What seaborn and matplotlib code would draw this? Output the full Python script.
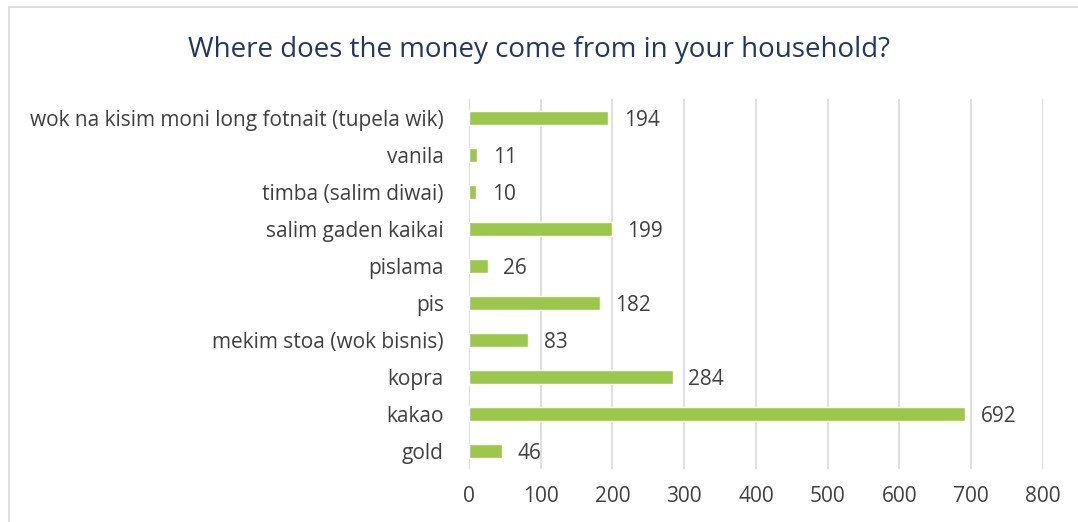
import matplotlib
matplotlib.use("Agg")
import matplotlib.pyplot as plt
import seaborn as sns
import pandas as pd
from matplotlib.patches import Rectangle

# data, top to bottom as shown
sources = ['wok na kisim moni long fotnait (tupela wik)', 'vanila', 'timba (salim diwai)',
           'salim gaden kaikai', 'pislama', 'pis', 'mekim stoa (wok bisnis)',
           'kopra', 'kakao', 'gold']
counts = [194, 11, 10, 199, 26, 182, 83, 284, 692, 46]

df = pd.DataFrame({'source': sources, 'count': counts})

sns.set_theme(style='white')
plt.rcParams['font.family'] = ['Open Sans', 'DejaVu Sans']

fig = plt.figure(figsize=(10.78, 5.22), dpi=100)
ax = fig.add_axes([0.435, 0.1006, 0.5325, 0.7088])

sns.barplot(data=df, x='count', y='source', color='#9BC84B', saturation=1,
            width=0.36, ax=ax, zorder=3)

ax.set_xlim(0, 800)
ax.set_xticks(range(0, 801, 100))
ax.grid(axis='x', color='#D9D9D9', linewidth=1.2, zorder=0)
ax.set_axisbelow(True)
for s in ax.spines.values():
    s.set_visible(False)
ax.set_xlabel('')
ax.set_ylabel('')
ax.tick_params(axis='both', length=0, labelsize=15, labelcolor='#404040')
ax.tick_params(axis='x', pad=12)
ax.tick_params(axis='y', pad=18)

for i, v in enumerate(counts):
    ax.text(v + 22, i, str(v), va='center_baseline', ha='left', fontsize=15, color='#404040')

fig.text(0.5, 0.905, 'Where does the money come from in your household?',
         ha='center', va='center', fontsize=20, color='#1F3864')

fig.patches.append(Rectangle((0.008, -0.1), 1.1, 1.087, transform=fig.transFigure,
                             fill=False, edgecolor='#D9D9D9', linewidth=1.2))

fig.savefig('out.png', dpi=100, facecolor='white')
